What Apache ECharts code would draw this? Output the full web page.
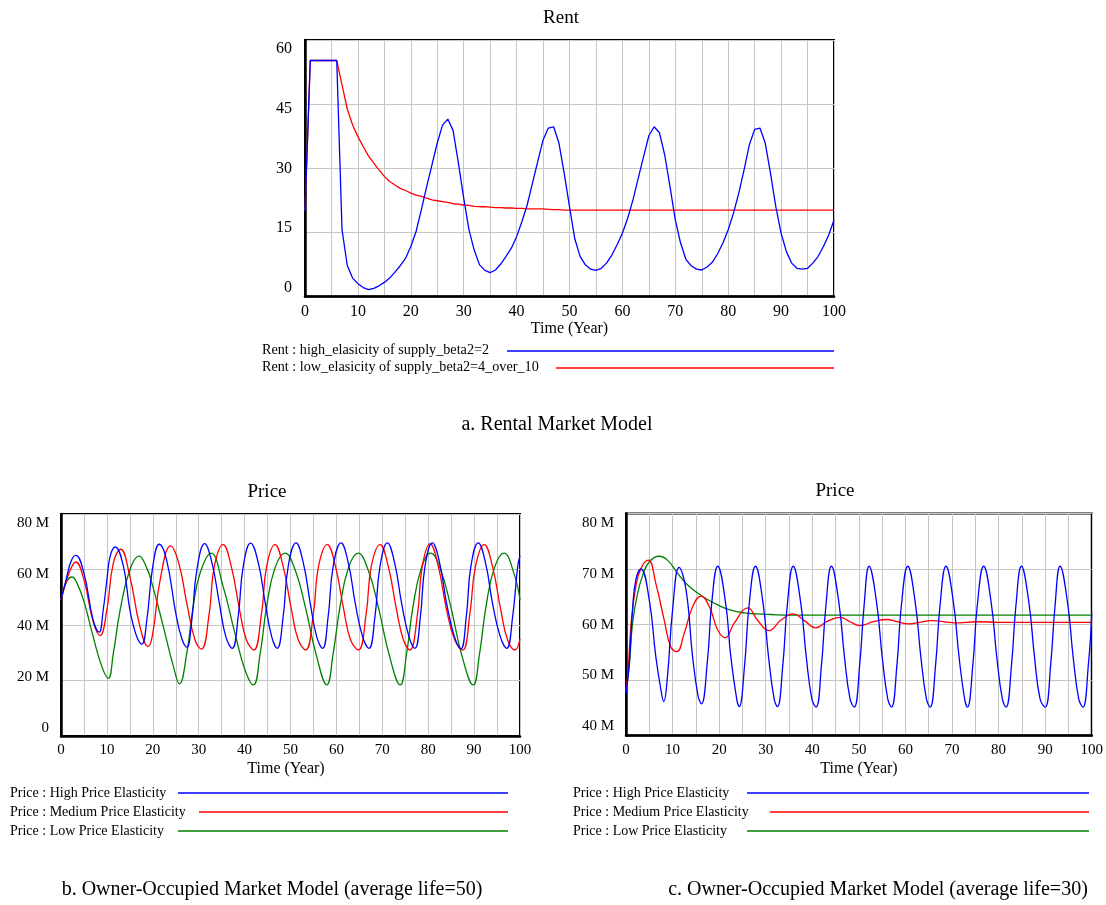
<!DOCTYPE html>
<html><head><meta charset="utf-8">
<script src="https://cdn.jsdelivr.net/npm/echarts@6.0.0/dist/echarts.min.js"></script>
<style>html,body{margin:0;padding:0;background:#fff}#c{width:1106px;height:905px}</style>
</head><body><div id="c"></div>
<script>
// ---------- DATA ----------
// Rent (yearly, t = 0..100)
const rentHigh = [20,55.2,55.2,55.2,55.2,55.2,55.2,15.6,7.2,4.3,
  3.0,2.1,1.6,1.9,2.5,3.3,4.3,5.7,7.2,8.9,
  11.7,15.2,20.3,25.7,30.8,35.9,40.1,41.5,38.8,31.2,
  23.0,15.6,10.8,7.4,6.1,5.6,6.2,7.6,9.4,11.3,
  14.0,17.5,21.4,26.5,31.6,36.6,39.4,39.7,35.9,28.8,
  21.0,13.5,9.4,7.4,6.4,6.1,6.6,7.8,9.7,12.1,
  14.8,18.3,22.6,27.7,32.7,37.6,39.7,38.3,33.1,25.7,
  17.9,12.5,8.7,7.2,6.4,6.2,6.9,8.0,10.0,12.5,
  15.6,19.5,24.2,29.6,35.5,39.1,39.4,35.9,28.8,21.0,
  14.8,10.5,7.8,6.6,6.4,6.6,7.8,9.4,11.7,14.4,
  17.9];
const rentLow = [20,55.2,55.2,55.2,55.2,55.2,55.2,49.5,43.8,40.1,
  37.4,35.1,32.9,31.2,29.6,28.1,26.9,26.1,25.3,24.8,
  24.2,23.7,23.4,23.0,22.6,22.4,22.2,22.0,21.7,21.6,
  21.4,21.3,21.1,21.0,21.0,20.9,20.8,20.8,20.7,20.7,
  20.6,20.6,20.5,20.5,20.5,20.5,20.4,20.3,20.3,20.2,
  20.2,20.2,20.2,20.2,20.2,20.2,20.2,20.2,20.2,20.2,
  20.2,20.2,20.2,20.2,20.2,20.2,20.2,20.2,20.2,20.2,
  20.2,20.2,20.2,20.2,20.2,20.2,20.2,20.2,20.2,20.2,
  20.2,20.2,20.2,20.2,20.2,20.2,20.2,20.2,20.2,20.2,
  20.2,20.2,20.2,20.2,20.2,20.2,20.2,20.2,20.2,20.2,
  20.2];

// Price, average life = 50 (values in millions) [year, value]
const priceHigh50 = [[0,49],[1.2,57],[2.2,63],[3.2,65.1],[5,58.7],[7,41.8],[8.3,37.4],[9.2,45.5],[10,56.3],[10.7,64.7],[11.8,68.1],
  [13.6,61.1],[15,45.5],[16.5,35.8],[17.6,33.1],[18.7,41.8],[20,61.1],[21.4,69.1],[23,63.5],[25,44.3],[26.3,35.2],[27.4,32.0],
  [28.5,41.8],[29.6,59.9],[31.3,69.3],[32.9,62.3],[34.5,47.9],[35.9,35.8],[37.3,31.6],[38.6,43],[39.7,61.1],[41.3,69.5],
  [43,62.3],[44.5,47.9],[45.9,35.8],[47.1,31.6],[48.4,43],[49.5,61.1],[51.2,69.6],[52.8,62.3],[54.3,47.9],[55.7,35.8],
  [57.0,31.6],[58.2,43],[59.3,61.1],[61.0,69.6],[62.6,62.3],[64.1,47.9],[65.7,35.8],[67.1,31.6],[68.4,43],[69.5,61.1],
  [71.1,69.6],[72.7,62.3],[74.2,47.9],[75.8,35.8],[77.1,31.6],[78.3,43],[79.3,61.1],[80.9,69.6],[82.5,62.3],[84.0,47.9],
  [85.7,35.8],[87.1,31.4],[88.3,43],[89.3,61.1],[90.9,69.6],[92.5,62.3],[94.0,47.9],[95.7,35.8],[97.1,31.6],[98.4,43],
  [99.5,61.1],[100,65]];
const priceMedium50 = [[0,49],[1.2,56],[2.2,60.5],[3.2,62.7],[5,56.3],[7,41.2],[8.5,36.2],[10,45.5],[11.4,62.3],[13,67.3],
  [15,57.5],[17.2,39.4],[19.0,32.2],[20,37],[21.6,56.3],[23.9,68.5],[25.7,62],[27.4,47.9],[29.2,34.6],[30.6,31.3],
  [32.3,44.3],[33.4,61.1],[35.3,69.0],[37.1,61.1],[38.9,45.5],[40.4,34.6],[42.0,31.0],[43.7,44.3],[44.8,61.1],[46.6,69.0],
  [48.4,61.1],[50.2,45.5],[51.7,34.6],[53.3,31.0],[55.0,44.3],[56.1,61.1],[58.0,69.0],[59.8,61.1],[61.6,45.5],[63.1,34.6],
  [64.8,31.0],[66.5,44.3],[67.6,61.1],[69.5,69.0],[71.3,61.1],[73.1,45.5],[74.6,34.6],[76.0,31.0],[77.7,44.3],[78.7,61.1],
  [80.4,69.2],[82.2,61.1],[84.0,45.5],[85.8,34.6],[87.5,31.0],[89.1,44.3],[90.3,61.1],[92.2,69.0],[94.0,61.1],[95.8,45.5],
  [97.3,34.6],[98.9,31.0],[100,35]];
const priceLow50 = [[0,49],[1.2,55.5],[2.4,57.3],[3.5,55],[5,48.5],[7,35.8],[8.9,25],[10.3,20.8],[11.4,29.8],[12.9,45.5],
  [15,59.9],[17.0,64.8],[18.7,60.5],[20,53.9],[22.3,39.4],[24.5,25],[25.8,18.8],[27.4,29.8],[28.8,46.7],[30.3,58.7],
  [32.7,65.9],[35.3,54],[37.9,37],[40.1,23.8],[41.9,18.4],[43.4,29.8],[44.8,46.7],[46.6,60.5],[48.8,65.9],[51,59.9],
  [53.2,46.7],[55.7,28.6],[57.9,18.4],[59.3,29.8],[60.8,46.7],[62.6,60.5],[64.7,65.9],[66.9,59.9],[69.1,46.7],[71.6,28.6],
  [73.9,18.4],[75.3,29.8],[76.7,46.7],[78.5,60.5],[80.5,65.9],[82.7,59.9],[84.9,46.7],[87.4,28.6],[89.8,18.4],[91.2,29.8],
  [92.6,46.7],[94.4,60.5],[96.5,65.9],[98.7,58.5],[100,49]];

// Price, average life = 30 (values in millions) [year, value]
const priceHigh30 = [[0,47.5],[0.7,53],[1.4,62.6],[2.1,68],[3.2,70],[5,64.4],[6.4,54.2],[7.5,48.2],[8.1,46.1],[8.9,50.6],
  [10,62.6],[11.4,70.3],[12.9,66.2],[14.3,54.2],[15.5,47],[16.2,45.7],[17.5,53.6],[18.4,63.8],[19.7,70.5],[21.4,63.8],
  [22.5,54.2],[23.8,46.4],[24.3,45.2],[25.5,53],[26.4,63.2],[27.8,70.5],
  [29.4,64],[30.6,54.2],[31.8,46.6],[32.5,45.2],[33.7,53],[34.6,63.2],[35.9,70.5],
  [37.5,64],[38.7,54.2],[39.9,46.6],[40.8,45.1],[42.0,53],[42.9,63.2],[44.1,70.5],
  [45.7,64],[46.9,54.2],[48.1,46.6],[49.0,45.1],[50.2,53],[51.1,63.2],[52.2,70.5],
  [53.8,64],[55.0,54.2],[56.2,46.6],[57.0,45.1],[58.2,53],[59.1,63.2],[60.5,70.5],
  [62.1,64],[63.3,54.2],[64.5,46.6],[65.3,45.1],[66.5,53],[67.4,63.2],[68.7,70.5],
  [70.3,64],[71.5,54.2],[72.7,46.6],[73.3,45.1],[74.5,53],[75.4,63.2],[76.8,70.5],
  [78.4,64],[79.6,54.2],[80.8,46.6],[81.6,45.1],[82.8,53],[83.7,63.2],[84.9,70.5],
  [86.5,64],[87.7,54.2],[88.9,46.6],[90.0,45.1],[91.2,53],[92.1,63.2],[93.2,70.5],
  [94.8,64],[96.0,54.2],[97.2,46.6],[98.1,45.1],[99.3,53],[100,62]];
const priceMedium30 = [[0,48],[0.5,52.4],[1.1,60.2],[2.1,66.8],[3.2,70.1],[4.8,71.6],[6.4,67.4],[8.2,60.8],[9.6,56],[10.9,55.1],
  [12.5,58.4],[14.3,63.2],[16.1,65.1],[17.9,63.2],[19.7,59],[21.3,57.6],[23.2,60.2],[26.2,63.0],[28.2,60.8],[30.7,58.9],
  [33.3,60.8],[35.9,61.9],[38.3,60.7],[40.7,59.4],[43.3,60.6],[46.0,61.3],[48.1,60.5],[50.2,59.8],[53.1,60.5],[56.0,60.9],
  [58.3,60.5],[60.6,60.1],[63.1,60.4],[65.6,60.7],[70.5,60.3],[75.5,60.5],[80,60.4],[100,60.4]];
const priceLow30 = [[0,48],[0.7,52.4],[1.4,60.2],[2.5,65.6],[3.6,68.9],[5,71.3],[7.1,72.3],[8.9,71.6],[11.1,69.2],[12.9,67.4],
  [15,65.9],[17.5,64.5],[20,63.4],[22.5,62.6],[25.4,62.1],[28.2,61.9],[31.1,61.8],[35,61.7],[100,61.7]];

const rentTicks = [0,15,30,45,60];
const price50Ticks = [0,20,40,60,80];
const price30Ticks = [40,50,60,70,80];

const rentLegend = ['Rent : high_elasicity of supply_beta2=2','Rent : low_elasicity of supply_beta2=4_over_10'];
const priceLegend = ['Price : High Price Elasticity','Price : Medium Price Elasticity','Price : Low Price Elasticity'];

// ---------- CHART ----------
const FONT = '"Liberation Serif","Times New Roman",Times,serif';
const GRIDC = '#c6c6c6';
const BLUE = '#0000ff', RED = '#ff0000', GREEN = '#008000';

function xAx(g, fs, margin) {
  return {type:'value', gridIndex:g, min:0, max:100, interval:5,
    axisLine:{show:true, onZero:false, lineStyle:{color:'#000', width:2.5}},
    axisTick:{show:false},
    axisLabel:{fontFamily:FONT, fontSize:fs, color:'#000', margin:margin,
      formatter: v => (v % 10 === 0 ? String(v) : '')},
    splitLine:{show:true, lineStyle:{color:GRIDC, width:1}}};
}
function yMain(g, min, max, interval) {
  return {type:'value', gridIndex:g, min, max, interval, position:'left',
    axisLine:{show:true, onZero:false, lineStyle:{color:'#000', width:2.5}},
    axisTick:{show:false}, axisLabel:{show:false},
    splitLine:{show:true, lineStyle:{color:GRIDC, width:1}}};
}
function yLab(g, min, max, ticks, fs, margin, fmt) {
  return {type:'value', gridIndex:g, min, max, position:'left',
    axisLine:{show:false}, axisTick:{show:false}, splitLine:{show:false},
    axisLabel:{customValues:ticks, fontFamily:FONT, fontSize:fs, color:'#000', margin:margin, formatter:fmt}};
}
const mFmt = v => (v === 0 ? '0' : v + ' M');

function line(name, data, xi, yi, color) {
  return {name, type:'line', xAxisIndex:xi, yAxisIndex:yi, data, showSymbol:false, symbol:'none',
    lineStyle:{color, width:1.3}, itemStyle:{color}, animation:false};
}
function smoothLine(name, data, xi, yi, color) {
  const s = line(name, data, xi, yi, color); s.smooth = 0.45; return s;
}
function txt(x, y, text, size, align) {
  return {type:'text', x, y, silent:true, style:{text, font: size + 'px ' + FONT, fill:'#000',
    align: align || 'center', verticalAlign:'middle', textAlign: align || 'center', textVerticalAlign:'middle'}};
}
function hline(x1, x2, y, color) {
  return {type:'line', silent:true, shape:{x1, y1:y, x2, y2:y}, style:{stroke:color, lineWidth:1.6}};
}

const chart = echarts.init(document.getElementById('c'), null, {renderer:'canvas'});
chart.setOption({
  backgroundColor:'#fff',
  animation:false,
  grid:[
    {left:305, top:40, width:529, height:256.5, show:true, borderColor:'#000', borderWidth:2, containLabel:false},
    {left:61, top:514, width:459, height:222, show:true, borderColor:'#000', borderWidth:2, containLabel:false},
    {left:626, top:513.5, width:466, height:222, show:true, borderColor:'#000', borderWidth:2, containLabel:false}
  ],
  xAxis:[xAx(0,16,7), xAx(1,15,7), xAx(2,15,7)],
  yAxis:[
    yMain(0,0,60,15), yLab(0,-2.25,62.28,rentTicks,16,13,v=>String(v)),
    yMain(1,0,80,20), yLab(1,-3.1,83.6,price50Ticks,15,12,mFmt),
    yMain(2,40,80,10), yLab(2,38.1,81.93,price30Ticks,15,12,mFmt)
  ],
  series:[
    line(rentLegend[1], rentLow.map((v,i)=>[i,v]), 0, 0, RED),
    line(rentLegend[0], rentHigh.map((v,i)=>[i,v]), 0, 0, BLUE),
    smoothLine('Low 50', priceLow50, 1, 2, GREEN),
    smoothLine('Medium 50', priceMedium50, 1, 2, RED),
    smoothLine('High 50', priceHigh50, 1, 2, BLUE),
    smoothLine('Low 30', priceLow30, 2, 4, GREEN),
    smoothLine('Medium 30', priceMedium30, 2, 4, RED),
    smoothLine('High 30', priceHigh30, 2, 4, BLUE)
  ],
  graphic:[
    txt(561, 18, 'Rent', 19),
    txt(569.5, 329, 'Time (Year)', 16),
    txt(262, 350, rentLegend[0], 14.2, 'left'),
    txt(262, 367, rentLegend[1], 14.2, 'left'),
    hline(507, 834, 351, BLUE),
    hline(556, 834, 368, RED),
    txt(557, 425, 'a. Rental Market Model', 20),

    txt(267, 492, 'Price', 19),
    txt(286, 769, 'Time (Year)', 16),
    txt(10, 793, priceLegend[0], 14, 'left'),
    txt(10, 812, priceLegend[1], 14, 'left'),
    txt(10, 831, priceLegend[2], 14, 'left'),
    hline(178, 508, 793, BLUE),
    hline(199, 508, 812, RED),
    hline(178, 508, 831, GREEN),
    txt(272, 890, 'b. Owner-Occupied Market Model (average life=50)', 20),

    txt(835, 491, 'Price', 19),
    txt(859, 769, 'Time (Year)', 16),
    txt(573, 793, priceLegend[0], 14, 'left'),
    txt(573, 812, priceLegend[1], 14, 'left'),
    txt(573, 831, priceLegend[2], 14, 'left'),
    hline(747, 1089, 793, BLUE),
    hline(770, 1089, 812, RED),
    hline(747, 1089, 831, GREEN),
    txt(878, 890, 'c. Owner-Occupied Market Model (average life=30)', 20)
  ]
});
</script></body></html>
